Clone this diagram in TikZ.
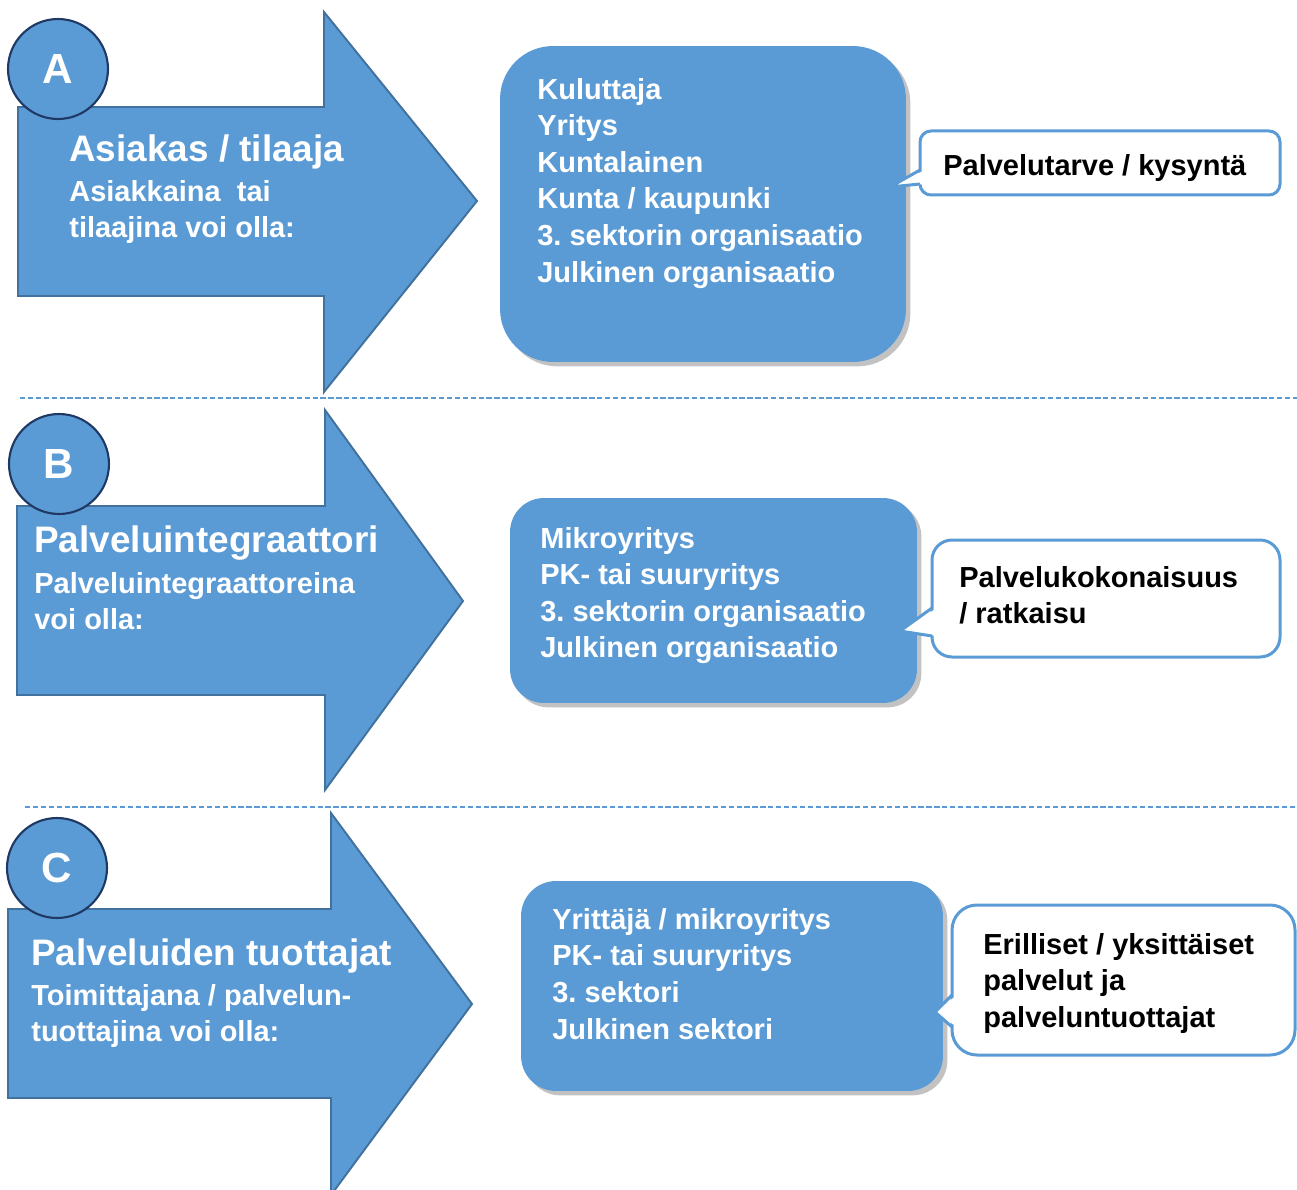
\documentclass[tikz,border=0pt]{standalone}
\usepackage{fontspec}
\setmainfont{Liberation Sans}
\frenchspacing
\usetikzlibrary{shadows}
\definecolor{blockblue}{HTML}{5B9BD5}
\definecolor{arrowline}{HTML}{41719C}
\definecolor{badgeline}{HTML}{1F3864}

\begin{document}
\begin{tikzpicture}[x=0.02cm, y=-0.02cm,
    bigarrow/.style={fill=blockblue, draw=arrowline, line width=1.1pt, line join=miter},
    badge/.style={circle, fill=blockblue, draw=badgeline, line width=1.2pt, minimum size=2cm,
        inner sep=0pt, text=white, font=\fontsize{24}{28}\selectfont\bfseries},
    heading/.style={anchor=base west, inner sep=0pt, text=white,
        font=\fontsize{21}{25}\selectfont\bfseries},
    subtext/.style={anchor=north west, inner sep=0pt, align=left, text=white,
        font=\fontsize{16.5}{20.8}\selectfont\bfseries},
    group/.style={rectangle, fill=blockblue, inner sep=0pt,
        drop shadow={shadow xshift=2.5pt, shadow yshift=-2.5pt, opacity=0.4, fill=black!60}},
    calltext/.style={anchor=north west, inner sep=0pt, align=left, text=black,
        font=\fontsize{16.5}{20.8}\selectfont\bfseries},
    bubble/.style={fill=white, draw=blockblue, line width=0.06cm},
    pointer/.style={draw=blockblue, line width=0.06cm, line join=miter},
    separator/.style={draw=blockblue, line width=0.6pt, dash pattern=on 3pt off 1.5pt}]
    \useasboundingbox (0,0) rectangle (1297,1189);

    % separators
    \draw[separator] (20,398) -- (1297,398);
    \draw[separator] (25,807) -- (1297,807);

    % big arrows
    \draw[bigarrow] (18,107) -- (324,107) -- (324,12) -- (477,201) -- (324,392) -- (324,296) -- (18,296) -- cycle;
    \draw[bigarrow] (17,506) -- (325,506) -- (325,410) -- (463,601) -- (325,790) -- (325,695) -- (17,695) -- cycle;
    \draw[bigarrow] (8,909) -- (331,909) -- (331,813) -- (472,1004) -- (331,1195) -- (331,1098) -- (8,1098) -- cycle;

    \node[badge] (a) at (58,69) {A};
    \node[badge] (b) at (59,464) {B};
    \node[badge] (c) at (57,868) {C};

    \node[heading] (titlea) at (69,162) {Asiakas / tilaaja};
    \node[subtext] (suba) at (69,180) {Asiakkaina\ \ tai\\tilaajina voi olla:};
    \node[heading] (titleb) at (34,552) {Palveluintegraattori};
    \node[subtext] (subb) at (34,572) {Palveluintegraattoreina\\voi olla:};
    \node[heading] (titlec) at (31,965) {Palveluiden tuottajat};
    \node[subtext] (subc) at (31,984) {Toimittajana / palvelun-\\tuottajina voi olla:};

    % member boxes
    \node[group, rounded corners=1.06cm, minimum width=8.12cm, minimum height=6.32cm] (boxa) at (703,204) {};
    \node[group, rounded corners=0.68cm, minimum width=8.14cm, minimum height=4.1cm] (boxb) at (713.5,600.5) {};
    \node[group, rounded corners=0.7cm, minimum width=8.44cm, minimum height=4.2cm] (boxc) at (732,986) {};

    \node[subtext] (lista) at (537,78) {Kuluttaja\\Yritys\\Kuntalainen\\Kunta / kaupunki\\3. sektorin organisaatio\\Julkinen organisaatio};
    \node[subtext] (listb) at (540,527) {Mikroyritys\\PK- tai suuryritys\\3. sektorin organisaatio\\Julkinen organisaatio};
    \node[subtext] (listc) at (552,908) {Yrittäjä / mikroyritys\\PK- tai suuryritys\\3. sektori\\Julkinen sektori};

    % callouts
    \draw[bubble, rounded corners=0.22cm] (920,131) rectangle (1280,195);
    \fill[white] (890,187) -- (925,170) -- (925,184) -- cycle;
    \draw[pointer] (920,170) -- (890,187) -- (920,184);

    \draw[bubble, rounded corners=0.4cm] (932,540) rectangle (1280,657);
    \fill[white] (900,631) -- (937,608) -- (937,636) -- cycle;
    \draw[pointer] (932,608) -- (900,631) -- (932,636);

    \draw[bubble, rounded corners=0.5cm] (952,905) rectangle (1295,1055);
    \fill[white] (935,1012) -- (957,995) -- (957,1027) -- cycle;
    \draw[pointer] (952,995) -- (935,1012) -- (952,1027);

    \node[calltext] (needa) at (943,154) {Palvelutarve / kysyntä};
    \node[calltext] (needb) at (959,566) {Palvelukokonaisuus\\/ ratkaisu};
    \node[calltext] (needc) at (983,933) {Erilliset / yksittäiset\\palvelut ja\\palveluntuottajat};
\end{tikzpicture}
\end{document}
